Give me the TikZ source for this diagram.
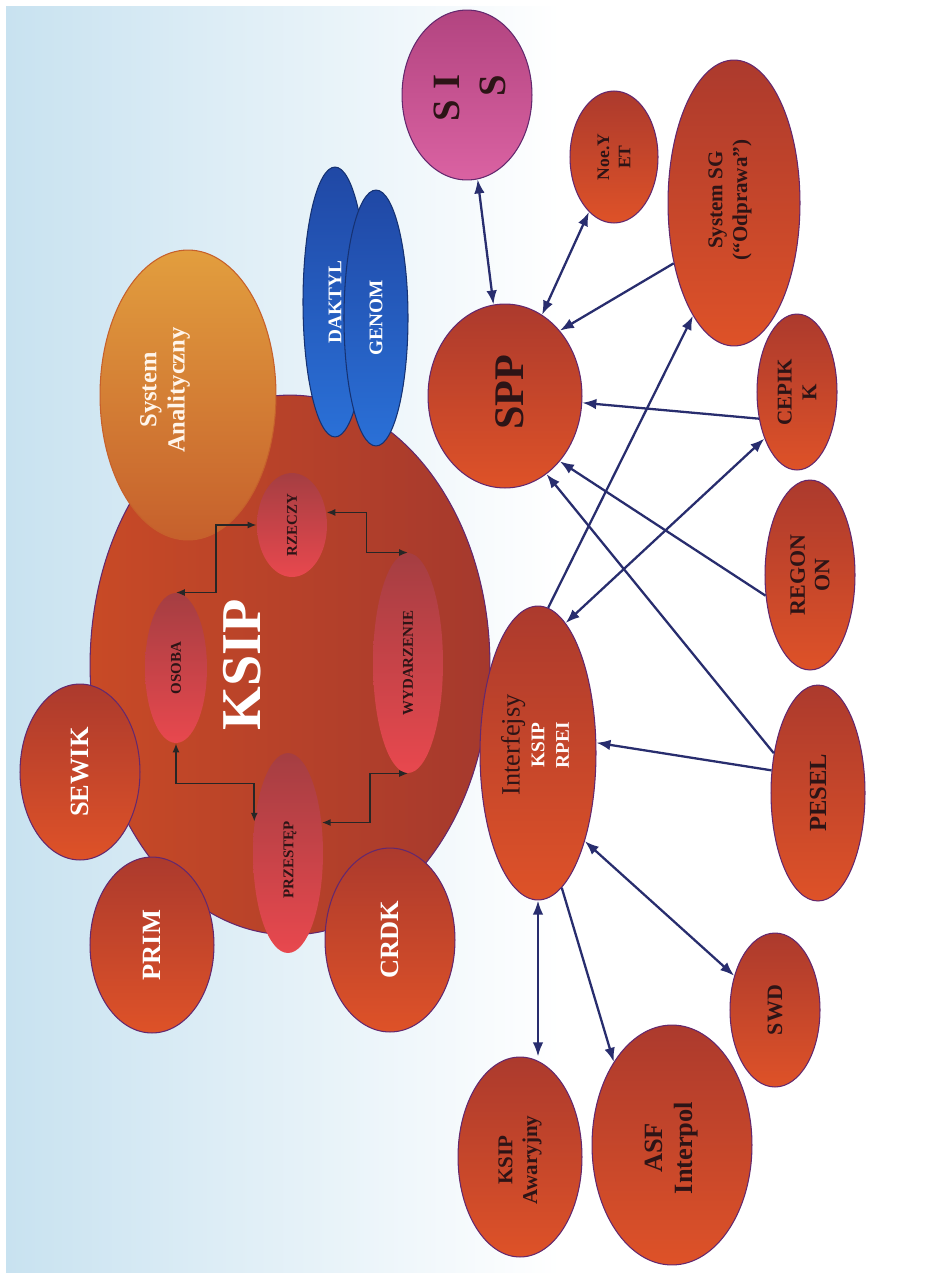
\documentclass[tikz,border=0pt]{standalone}
\usepackage{fontspec}
\setmainfont{Liberation Serif}
\usetikzlibrary{shapes.geometric,arrows.meta}
\definecolor{bgblue}{RGB}{200,226,240}
\definecolor{navy}{RGB}{40,45,110}
\definecolor{redtop}{RGB}{172,58,45}
\definecolor{redbot}{RGB}{222,82,40}
\definecolor{ksipA}{RGB}{200,74,38}
\definecolor{ksipB}{RGB}{165,57,45}
\definecolor{inTop}{RGB}{165,62,66}
\definecolor{inBot}{RGB}{232,72,78}
\definecolor{pinkA}{RGB}{178,68,128}
\definecolor{pinkB}{RGB}{218,98,162}
\definecolor{orA}{RGB}{226,158,62}
\definecolor{orB}{RGB}{198,96,44}
\definecolor{blueA}{RGB}{32,72,165}
\definecolor{blueB}{RGB}{42,112,215}
\definecolor{rim}{RGB}{100,40,110}
\definecolor{dk}{RGB}{45,20,22}
\newcommand\fsz[2]{\fontsize{#1}{#2}\selectfont}
\tikzset{
  blob/.style={ellipse, draw=rim, line width=0.6pt, inner sep=0pt, top color=redtop, bottom color=redbot},
  sz/.style 2 args={minimum width={#1*0.04cm}, minimum height={#2*0.04cm}},
  ksipfill/.style={left color=ksipA, right color=ksipB, draw=rim},
  innerfill/.style={top color=inTop, bottom color=inBot, draw=none},
  pinkfill/.style={top color=pinkA, bottom color=pinkB},
  orfill/.style={top color=orA, bottom color=orB, draw=orB},
  bluefill/.style={top color=blueA, bottom color=blueB, draw=blueA!70!black},
  lbl/.style={rotate=90, align=center, font=\bfseries, text=dk, inner sep=0pt},
  conn/.style={draw=navy, line width=1.3pt, -{Latex[length=8pt,width=6pt]}},
  bi/.style={draw=navy, line width=1.3pt, {Latex[length=8pt,width=6pt]}-{Latex[length=8pt,width=6pt]}},
  inner/.style={draw=black!85, line width=0.9pt, {Latex[length=5pt,width=4pt]}-{Latex[length=5pt,width=4pt]}}
}
\begin{document}
\begin{tikzpicture}[x=0.02cm,y=-0.02cm]
\useasboundingbox (0,0) rectangle (947,1278);
\fill[white] (0,0) rectangle (947,1278);
\shade[left color=bgblue, right color=white] (6,6) rectangle (560,1272);

% main KSIP
\node[blob, ksipfill, sz={200}{270}] (ksip) at (290,665) {};
\node[blob, orfill, sz={88}{145}] (anal) at (188,395) {};
\node[blob, bluefill, sz={32}{135}] (dakt) at (335,302) {};
\node[blob, bluefill, sz={32}{128}] (genom) at (376,318) {};

\node[blob, innerfill, sz={31}{75}] (osoba) at (176,668) {};
\node[blob, innerfill, sz={35}{52}] (rzeczy) at (292,525) {};
\node[blob, innerfill, sz={35}{110}] (wyd) at (408,663) {};
\node[blob, innerfill, sz={35}{100}] (prz) at (288,853) {};

\node[blob, sz={60}{88}] (sewik) at (80,772) {};
\node[blob, sz={62}{88}] (prim) at (152,945) {};
\node[blob, sz={65}{92}] (crdk) at (390,940) {};

\node[blob, sz={58}{147}] (intf) at (538,753) {};
\node[blob, sz={77}{92}] (spp) at (505,396) {};
\node[blob, pinkfill, sz={65}{85}] (sis) at (467,95) {};
\node[blob, sz={44}{66}] (noe) at (614,157) {};
\node[blob, sz={66}{143}] (syssg) at (734,203) {};
\node[blob, sz={40}{78}] (cepik) at (797,392) {};
\node[blob, sz={45}{95}] (regon) at (810,575) {};
\node[blob, sz={47}{108}] (pesel) at (818,793) {};
\node[blob, sz={45}{77}] (swd) at (775,1010) {};
\node[blob, sz={80}{120}] (asf) at (672,1145) {};
\node[blob, sz={62}{100}] (ksipa) at (520,1157) {};

% labels
\node[lbl, text=white, font=\bfseries\fsz{32}{34}] (ksipT) at (242,665) {KSIP};
\node[lbl, text=white!92!orange, font=\bfseries\fsz{14}{16}] (analT) at (165,390) {System\\Analityczny};
\node[lbl, text=white, font=\bfseries\fsz{11}{12}] (daktT) at (335,302) {DAKTYL};
\node[lbl, text=white, font=\bfseries\fsz{11}{12}] (genomT) at (376,318) {GENOM};
\node[lbl, font=\bfseries\fsz{8.5}{9}] (osobaT) at (176,668) {OSOBA};
\node[lbl, font=\bfseries\fsz{8.5}{9}] (rzeczyT) at (292,525) {RZECZY};
\node[lbl, font=\bfseries\fsz{8.5}{9}] (wydT) at (408,663) {WYDARZENIE};
\node[lbl, font=\bfseries\fsz{8.5}{9}] (przT) at (290,860) {PRZESTĘP};
\node[lbl, text=white, font=\bfseries\fsz{15}{16}] (sewikT) at (80,772) {SEWIK};
\node[lbl, text=white, font=\bfseries\fsz{15}{16}] (primT) at (152,945) {PRIM};
\node[lbl, text=white, font=\bfseries\fsz{15}{16}] (crdkT) at (390,940) {CRDK};
\node[lbl, font=\bfseries\fsz{11}{14}] (intfT) at (535,745) {{\mdseries\fsz{15}{16}\color{dk}Interfejsy}\\{\color{white}KSIP}\\{\color{white!90!pink}RPEI}};
\node[lbl, font=\bfseries\fsz{24}{26}] (sppT) at (510,392) {SPP};
\node[lbl, align=right, font=\bfseries\fsz{22}{26}] (sisT) at (470,98) {S I\\S};
\node[lbl, font=\bfseries\fsz{10}{12}] (noeT) at (614,157) {Noe.Y\\ET};
\node[lbl, font=\bfseries\fsz{12}{14}] (syssgT) at (730,200) {System SG\\(“Odprawa”)};
\node[lbl, font=\bfseries\fsz{12}{14}] (cepikT) at (797,392) {CEPIK\\K};
\node[lbl, font=\bfseries\fsz{12.5}{14}] (regonT) at (810,575) {REGON\\ON};
\node[lbl, font=\bfseries\fsz{14}{15}] (peselT) at (818,793) {PESEL};
\node[lbl, font=\bfseries\fsz{12.5}{14}] (swdT) at (775,1010) {SWD};
\node[lbl, font=\bfseries\fsz{15}{17}] (asfT) at (672,1148) {ASF\\Interpol};
\node[lbl, font=\bfseries\fsz{12}{14}] (ksipaT) at (520,1160) {KSIP\\Awaryjny};

% inner connectors
\draw[inner] (osoba.north) -- ++(40,0) |- (rzeczy.west);
\draw[inner] (rzeczy.20) -- ++(40,0) |- (wyd.north);
\draw[inner] (wyd.south) -- ++(-38,0) |- (prz.42);
\draw[inner] (osoba.south) -- ++(0,40) -| (prz.137);

% outer connectors
\draw[bi] (sis) -- (spp);
\draw[bi] (noe) -- (spp);
\draw[conn] (syssg.225) -- (spp.50);
\draw[conn] (cepik.215) -- (spp.-5);
\draw[conn] (regon.205) -- (spp.-50);
\draw[conn] (pesel.138) -- (spp.-62);
\draw[conn] (pesel.154) -- (intf.10);
\draw[conn] (intf.86) -- (syssg.250);
\draw[bi] (intf.78) -- (cepik.235);
\draw[bi] (intf.-62) -- (swd.140);
\draw[conn] (intf.-80) -- (asf.125);
\draw[bi] (intf.south) -- (intf.south |- ksipa.north);
\end{tikzpicture}
\end{document}
